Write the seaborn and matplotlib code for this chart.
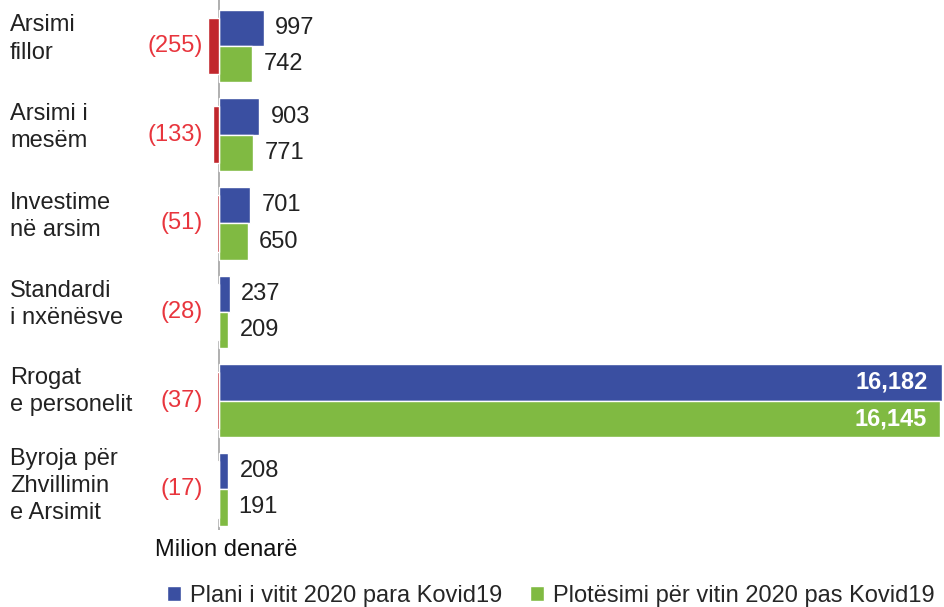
import pandas as pd
import matplotlib
matplotlib.use("Agg")
import matplotlib.pyplot as plt
import matplotlib.transforms as mtransforms
import seaborn as sns

# Chart data
categories = ["Arsimi\nfillor", "Arsimi i\nmesëm", "Investime\nnë arsim",
              "Standardi\ni nxënësve", "Rrogat\ne personelit",
              "Byroja për\nZhvillimin\ne Arsimit"]
plan_before = [997, 903, 701, 237, 16182, 208]
after_covid = [742, 771, 650, 209, 16145, 191]
difference = [-255, -133, -51, -28, -37, -17]
series_names = ["Plani i vitit 2020 para Kovid19", "Plotësimi për vitin 2020 pas Kovid19"]

BLUE = "#3A4FA1"
GREEN = "#80BA42"
RED = "#C1272D"
RED_TXT = "#E8353D"

sns.set_style("white")
plt.rcParams["font.family"] = ["Liberation Sans", "DejaVu Sans"]

df = pd.DataFrame({
    "cat": categories * 2,
    "value": plan_before + after_covid,
    "series": [series_names[0]] * len(categories) + [series_names[1]] * len(categories),
})

fig = plt.figure(figsize=(9.45, 6.07), dpi=100)
ax = fig.add_axes([150 / 945, 1 - 530 / 607, 795 / 945, 530 / 607])

ax.axvline(0, color="#9a9a9a", lw=1.1, zorder=0)
# difference bars (drawn over the zero line)
sns.barplot(x=difference, y=categories, color=RED, width=0.64, orient="h",
            saturation=1, ax=ax, zorder=3)
sns.barplot(data=df, x="value", y="cat", hue="series", orient="h", width=0.82,
            palette=[BLUE, GREEN], saturation=1, ax=ax, zorder=2)

ax.set_xlim(-1544, 16249)
ax.set_ylim(5.46, -0.52)
for s in ax.spines.values():
    s.set_visible(False)
ax.set_xticks([])
ax.set_yticks([])
ax.set_xlabel("")
ax.set_ylabel("")

label_tr = mtransforms.blended_transform_factory(fig.transFigure, ax.transData)
label_shift = [-0.08, -0.08, -0.08, -0.08, -0.1, -0.04]

# value labels
for i, (p, a, d) in enumerate(zip(plan_before, after_covid, difference)):
    for val, off in [(p, -0.205), (a, 0.205)]:
        if val > 5000:
            ax.annotate(f"{val:,}", (val, i + off), xytext=(-10, 0), textcoords="offset points",
                        ha="right", va="center", color="white", fontsize=17, fontweight="bold")
        else:
            ax.annotate(f"{val:,}", (val, i + off), xytext=(8, 0), textcoords="offset points",
                        ha="left", va="center", color="#222222", fontsize=17)
    ax.text(-358, i, f"({-d})", ha="right", va="center", color=RED_TXT, fontsize=17)
    ax.text(10 / 945, i + label_shift[i], categories[i], transform=label_tr,
            ha="left", va="center", fontsize=17, color="#222222", linespacing=1.3)

fig.text(155 / 945, 1 - 550 / 607, "Milion denarë", fontsize=17, color="#111111", va="center")

sns.move_legend(ax, loc="center right", bbox_to_anchor=(1.0, 1 - 596 / 607),
                bbox_transform=fig.transFigure, ncol=2, frameon=False, title=None,
                handlelength=0.6, handleheight=0.6, handletextpad=0.35,
                columnspacing=1.2, fontsize=17, borderaxespad=0.05)

fig.savefig("out.png", dpi=100)
